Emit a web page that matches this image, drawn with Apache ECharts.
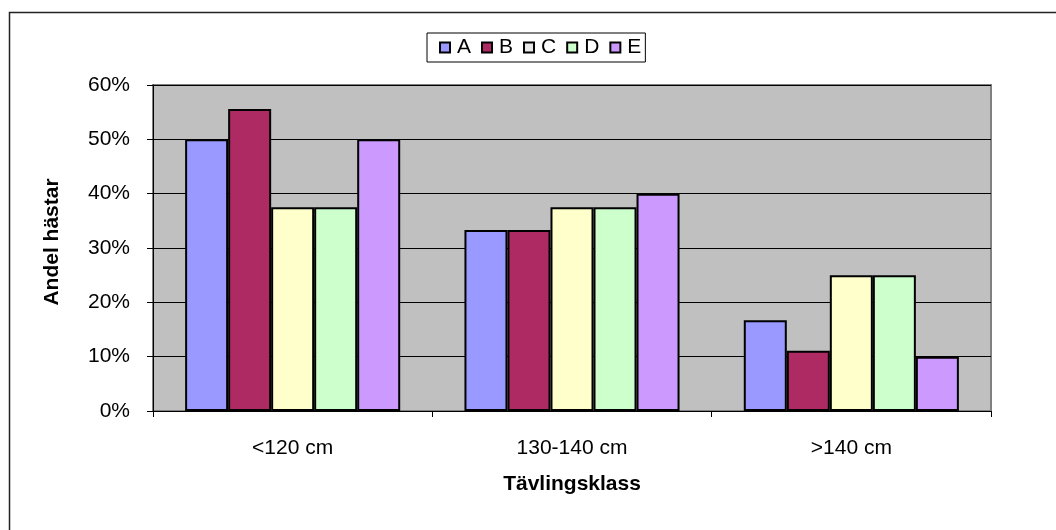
<!DOCTYPE html>
<html>
<head>
<meta charset="utf-8">
<script src="https://cdn.jsdelivr.net/npm/echarts@6/dist/echarts.min.js"></script>
<style>html,body{margin:0;padding:0;background:#fff}#c{width:1056px;height:530px}</style>
</head>
<body>
<div id="c"></div>
<script>
var categories = ['<120 cm', '130-140 cm', '>140 cm'];
var seriesNames = ['A', 'B', 'C', 'D', 'E'];
var valuesA = [50, 33.3, 16.7];
var valuesB = [55.6, 33.3, 11.1];
var valuesC = [37.5, 37.5, 25];
var valuesD = [37.5, 37.5, 25];
var valuesE = [50, 40, 10];
var barColors = ['#9999FF', '#AE2A63', '#FFFFCC', '#CCFFCC', '#CC99FF'];
var legendColors = ['#9999FF', '#AE2A63', '#E8E8E8', '#CCFFCC', '#CC99FF'];
var allValues = [valuesA, valuesB, valuesC, valuesD, valuesE];

var font = '"Liberation Sans", Arial, sans-serif';
var chart = echarts.init(document.getElementById('c'));
chart.setOption({
  animation: false,
  backgroundColor: '#fff',
  graphic: [{
    type: 'rect', left: 7, top: 10,
    shape: {width: 1100, height: 600},
    style: {fill: 'none', stroke: '#222', lineWidth: 1.5},
    silent: true, z: -1
  }],
  legend: {
    left: 427, top: 33,
    padding: [4, 4, 4, 12],
    borderColor: '#000', borderWidth: 1,
    itemWidth: 10, itemHeight: 10, itemGap: 10,
    icon: 'rect',
    textStyle: {fontFamily: font, fontSize: 21, color: '#000', padding: [0, 0, 0, 2]},
    data: seriesNames.map(function (n, i) {
      return {name: n, itemStyle: {color: legendColors[i], borderColor: '#000', borderWidth: 2}};
    })
  },
  grid: {
    left: 153, top: 85, right: 65, bottom: 119,
    show: true, backgroundColor: '#C0C0C0', borderColor: '#808080', borderWidth: 2
  },
  xAxis: {
    type: 'category',
    data: categories,
    name: 'Tävlingsklass',
    nameLocation: 'middle',
    nameGap: 63,
    nameTextStyle: {fontFamily: font, fontSize: 21, fontWeight: 'bold', color: '#000'},
    axisLine: {lineStyle: {color: '#000', width: 1}},
    axisTick: {show: true, length: 6, lineStyle: {color: '#000'}},
    axisLabel: {fontFamily: font, fontSize: 21, color: '#000', margin: 27}
  },
  yAxis: {
    type: 'value',
    min: 0, max: 60, interval: 10,
    name: 'Andel hästar',
    nameLocation: 'middle',
    nameGap: 90,
    nameTextStyle: {fontFamily: font, fontSize: 21, fontWeight: 'bold', color: '#000', padding: [0, 0, 0, 12]},
    axisLine: {show: true, lineStyle: {color: '#000', width: 1}},
    axisTick: {show: true, length: 6, lineStyle: {color: '#000'}},
    axisLabel: {fontFamily: font, fontSize: 21, color: '#000', margin: 23, formatter: '{value}%'},
    splitLine: {show: true, lineStyle: {color: '#000', width: 1}}
  },
  series: seriesNames.map(function (n, i) {
    return {
      name: n, type: 'bar',
      data: allValues[i],
      barGap: '0%',
      barCategoryGap: '23%',
      itemStyle: {color: barColors[i], borderColor: '#000', borderWidth: 2}
    };
  })
});
</script>
</body>
</html>
